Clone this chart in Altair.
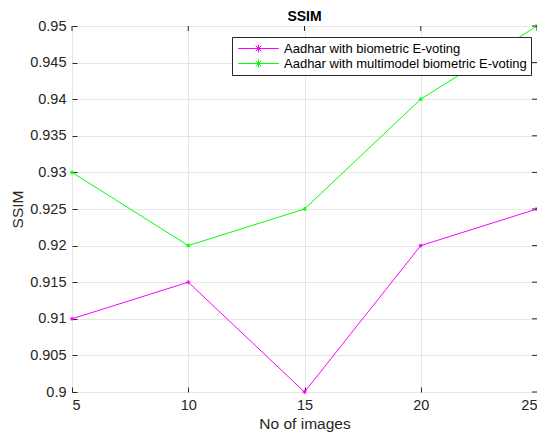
import altair as alt
import pandas as pd

images = [5, 10, 15, 20, 25]
series_names = ["Aadhar with biometric E-voting", "Aadhar with multimodel biometric E-voting"]
ssim_biometric = [0.91, 0.915, 0.90, 0.92, 0.925]
ssim_multimodel = [0.93, 0.92, 0.925, 0.94, 0.95]
x_ticks = [5, 10, 15, 20, 25]
y_ticks = [0.9, 0.905, 0.91, 0.915, 0.92, 0.925, 0.93, 0.935, 0.94, 0.945, 0.95]
colors = ["#ff00ff", "#00ff00"]

rows = []
for name, vals in zip(series_names, [ssim_biometric, ssim_multimodel]):
    for x, v in zip(images, vals):
        rows.append({"images": x, "ssim": v, "series": name})
df = pd.DataFrame(rows)

star = "M-0.5,0L0.5,0M0,-0.5L0,0.5M-0.35,-0.35L0.35,0.35M-0.35,0.35L0.35,-0.35"
legend_sym = ("M-2.9,0L2.9,0M-0.57,0L0.57,0M0,-0.57L0,0.57"
              "M-0.4,-0.4L0.4,0.4M-0.4,0.4L0.4,-0.4")

font = "Liberation Sans"
W, H = 465, 366

xscale = alt.Scale(domain=[5, 25], nice=False, zero=False)
yscale = alt.Scale(domain=[0.9, 0.95], nice=False, zero=False)
cscale = alt.Scale(domain=series_names, range=colors)

x_axis = alt.Axis(values=x_ticks, orient="bottom", offset=-5, domain=False,
                  tickSize=5, labelPadding=6, grid=True, title="No of images")
y_axis = alt.Axis(values=y_ticks, orient="left", offset=-5, domain=False,
                  tickSize=5, labelPadding=6, grid=True, format=".3~f", title="SSIM")

base = alt.Chart(df)

color = alt.Color("series:N", scale=cscale, sort=series_names,
                  legend=alt.Legend(title=None, orient="none", legendX=160, legendY=11,
                                    symbolType=legend_sym, symbolSize=196,
                                    symbolStrokeWidth=1, symbolOffset=15,
                                    labelOffset=18, labelFontSize=13, labelFont=font,
                                    labelColor="#000000",
                                    strokeColor="#262626", fillColor="#ffffff",
                                    padding=4, rowPadding=0, labelLimit=400))

lines = base.mark_line(strokeWidth=1).encode(
    x=alt.X("images:Q", scale=xscale, title="No of images", axis=x_axis),
    y=alt.Y("ssim:Q", scale=yscale, title="SSIM", axis=y_axis),
    color=color)
points = base.mark_point(shape=star, filled=False, size=64, strokeWidth=1, opacity=1).encode(
    x=alt.X("images:Q", scale=xscale, title="No of images", axis=x_axis),
    y=alt.Y("ssim:Q", scale=yscale, title="SSIM", axis=y_axis),
    color=color)

xt = pd.DataFrame({"tick": x_ticks})
yt = pd.DataFrame({"tick": y_ticks})
top_ticks = alt.Chart(xt).mark_rule(color="#262626", strokeWidth=1).encode(
    x=alt.X("tick:Q", scale=xscale, title="No of images", axis=x_axis),
    y=alt.value(0), y2=alt.value(5))
right_ticks = alt.Chart(yt).mark_rule(color="#262626", strokeWidth=1).encode(
    y=alt.Y("tick:Q", scale=yscale, title="SSIM", axis=y_axis),
    x=alt.value(W - 5), x2=alt.value(W))

chart = alt.layer(lines, points, top_ticks, right_ticks).properties(
    width=W, height=H,
    title=alt.Title("SSIM", fontSize=14, fontWeight="bold", font=font, color="#000000",
                    offset=2, dy=8),
    autosize=alt.AutoSizeParams(type="none"),
    padding={"left": 64, "top": 18, "right": 0, "bottom": 46},
).configure_view(stroke="#262626", strokeWidth=1).configure_axis(
    labelFont=font, labelFontSize=14.5, labelColor="#262626",
    titleFont=font, titleFontSize=15.5, titleColor="#262626", titleFontWeight="normal",
    tickColor="#262626", gridColor="#e6e6e6", gridWidth=1,
).configure_axisX(titlePadding=5).configure_axisY(titlePadding=4)

chart.save("out.html", embed_options={"renderer": "svg", "actions": False})
